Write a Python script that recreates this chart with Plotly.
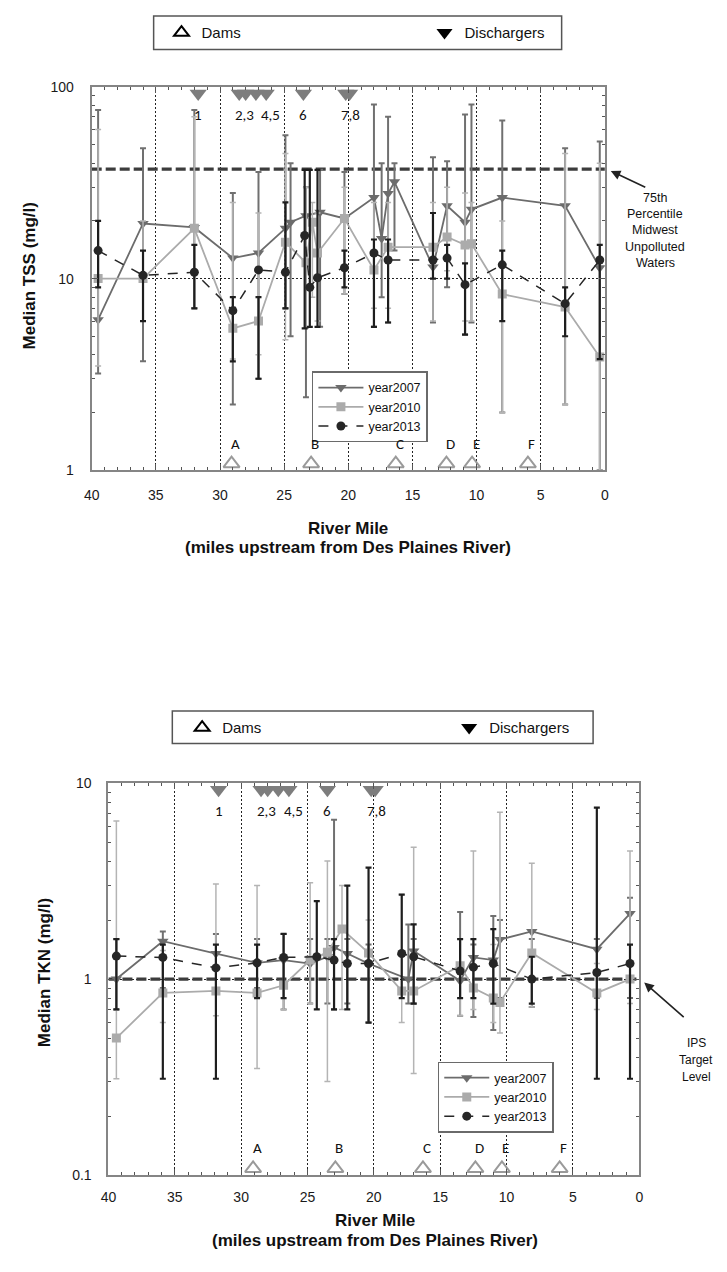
import plotly.graph_objects as go

# The page adds an 8 px body margin; the figure is sized so that the
# page (figure + margins) is exactly the 727 x 1272 window.
PAGE_W, PAGE_H, PAD = 727, 1272, 8
FW, FH = PAGE_W - 2 * PAD, PAGE_H - 2 * PAD

# ---------------- data: TSS (top chart) ----------------
tss_2007_mile = [39.5, 36.0, 32.0, 29.0, 27.0, 24.9, 24.5, 23.3, 22.2, 20.3, 18.0, 17.4, 16.9, 16.4, 13.4, 12.3, 10.9, 10.4, 8.0, 3.1, 0.4]
tss_2007_med = [6.1, 19.4, 18.5, 12.8, 13.6, 18.3, 19.7, 21.3, 22.2, 20.6, 26.5, 16.2, 27.8, 32.0, 11.5, 24.0, 19.7, 23.0, 26.5, 24.0, 11.4]
tss_2007_lo = [3.2, 3.7, 7.0, 2.2, 3.0, 7.0, 5.0, 2.4, 5.6, 8.3, 5.6, 8.0, 5.9, 14.0, 5.9, 9.0, 5.1, 5.9, 2.0, 2.2, 1.0]
tss_2007_hi = [76, 48, 76, 28, 36, 56, 40, 30, 37, 36, 81, 40, 70, 40, 43, 41, 72, 81, 67, 48, 52]

tss_2010_mile = [39.5, 36.0, 32.0, 29.0, 27.0, 24.9, 23.3, 22.8, 22.4, 20.3, 18.0, 16.9, 13.4, 12.3, 10.9, 10.4, 8.0, 3.1, 0.4]
tss_2010_med = [10.0, 10.0, 18.3, 5.5, 6.0, 15.5, 12.1, 19.7, 13.6, 20.6, 11.1, 14.6, 14.6, 16.5, 15.0, 15.2, 8.3, 7.1, 3.9]
tss_2010_lo = [3.5, 6.0, 7.0, 3.8, 4.0, 4.8, 5.5, 8.0, 6.0, 8.3, 7.0, 7.0, 6.0, 11.0, 6.0, 6.0, 2.0, 2.2, 1.0]
tss_2010_hi = [60, 20, 70, 25, 22, 45, 30, 25, 22, 30, 25, 25, 25, 30, 28, 25, 20, 45, 40]

tss_2013_mile = [39.5, 36.0, 32.0, 29.0, 27.0, 24.9, 23.4, 23.0, 22.4, 20.3, 18.0, 16.9, 13.4, 12.3, 10.9, 8.0, 3.1, 0.4]
tss_2013_med = [14.0, 10.4, 10.8, 6.8, 11.1, 10.8, 16.8, 9.0, 10.1, 11.4, 13.6, 12.5, 12.5, 12.8, 9.3, 11.8, 7.4, 12.5]
tss_2013_lo = [9.0, 6.0, 7.0, 3.7, 3.0, 7.0, 5.5, 5.6, 5.6, 9.0, 5.6, 5.9, 10.0, 10.0, 5.1, 6.0, 5.0, 3.8]
tss_2013_hi = [20, 14, 15, 8.0, 8.0, 25, 37, 37, 37, 14, 16, 16, 22, 15, 12, 14, 9.0, 15]

tss_reference = 37.3  # 75th percentile Midwest unpolluted waters

# ---------------- data: TKN (bottom chart) ----------------
tkn_2007_mile = [39.4, 35.9, 31.9, 28.8, 26.8, 24.8, 23.5, 23.0, 22.0, 20.4, 17.4, 17.0, 13.5, 12.5, 11.0, 10.5, 8.1, 3.2, 0.7]
tkn_2007_med = [1.0, 1.56, 1.35, 1.21, 1.25, 1.2, 1.3, 1.45, 1.35, 1.2, 1.0, 1.39, 0.98, 1.29, 1.25, 1.59, 1.75, 1.42, 2.16]
tkn_2007_lo = [0.7, 0.9, 0.9, 0.9, 0.7, 0.75, 0.75, 0.7, 0.75, 0.6, 0.75, 0.75, 0.65, 0.64, 0.55, 0.8, 0.72, 0.8, 0.8]
tkn_2007_hi = [1.6, 1.75, 1.7, 1.6, 1.7, 1.6, 1.6, 6.5, 1.6, 1.5, 1.9, 1.6, 2.2, 1.5, 2.1, 2.0, 1.6, 1.6, 2.6]

tkn_2010_mile = [39.4, 35.9, 31.9, 28.8, 26.8, 24.8, 23.5, 22.4, 20.4, 17.9, 17.0, 13.5, 12.5, 11.0, 10.5, 8.1, 3.2, 0.7]
tkn_2010_med = [0.5, 0.85, 0.87, 0.85, 0.93, 1.25, 1.37, 1.8, 1.36, 0.87, 0.87, 1.17, 0.9, 0.8, 0.76, 1.36, 0.85, 1.0]
tkn_2010_lo = [0.31, 0.6, 0.65, 0.35, 0.7, 0.75, 0.3, 0.7, 0.6, 0.6, 0.33, 0.65, 0.7, 0.6, 0.53, 0.72, 0.7, 0.75]
tkn_2010_hi = [6.4, 1.4, 3.06, 3.0, 1.7, 3.1, 4.0, 3.0, 2.0, 2.7, 4.7, 1.6, 4.5, 1.5, 7.1, 3.9, 1.2, 4.5]

tkn_2013_mile = [39.4, 35.9, 31.9, 28.8, 26.8, 24.3, 23.0, 22.0, 20.4, 17.9, 17.0, 13.5, 12.5, 11.0, 8.1, 3.2, 0.7]
tkn_2013_med = [1.31, 1.29, 1.14, 1.21, 1.29, 1.3, 1.25, 1.2, 1.2, 1.35, 1.3, 1.1, 1.15, 1.2, 1.0, 1.08, 1.2]
tkn_2013_lo = [0.7, 0.31, 0.31, 0.8, 0.8, 0.7, 0.7, 0.7, 0.6, 0.8, 0.75, 0.8, 0.8, 0.75, 0.75, 0.31, 0.31]
tkn_2013_hi = [1.6, 1.5, 1.5, 1.5, 1.7, 2.5, 1.6, 3.0, 3.7, 2.7, 1.9, 1.6, 1.6, 1.8, 1.3, 7.5, 1.5]

tkn_reference = 1.0  # IPS target level

# ---------------- site markers ----------------
dam_miles = [29.1, 22.9, 16.3, 12.35, 10.35, 6.0]
dam_labels = ["A", "B", "C", "D", "E", "F"]
discharger_miles = [31.7, 28.5, 28.0, 27.2, 26.4, 23.5, 20.2, 19.9]
discharger_label_miles = [31.7, 28.1, 26.05, 23.5, 19.8]
discharger_labels = ["1", "2,3", "4,5", "6", "7,8"]

x_ticks = [40, 35, 30, 25, 20, 15, 10, 5, 0]

FONT = "Liberation Sans, Arial, sans-serif"
LABEL_FONT = "Carlito, Noto Sans, DejaVu Sans, sans-serif"

C07, C10, C13 = "#6c6c6c", "#ababab", "#262626"


def fx(px):  # page pixel -> paper x
    return (px - PAD) / FW


def fy(py):  # page pixel -> paper y
    return 1 - (py - PAD) / FH


fig = go.Figure()


def add_series(mile, med, lo, hi, name, xa, ya, legend, color, symbol, msize, dash, lwidth, ecolor, ethick):
    fig.add_trace(go.Scatter(
        x=mile, y=med, name=name, mode="lines+markers", xaxis=xa, yaxis=ya, legend=legend,
        line=dict(color=color, width=lwidth, dash=dash),
        marker=dict(symbol=symbol, size=msize, color=color, line=dict(width=0)),
        error_y=dict(type="data", symmetric=False,
                     array=[h - m for h, m in zip(hi, med)],
                     arrayminus=[m - l for m, l in zip(med, lo)],
                     color=ecolor, thickness=ethick, width=3),
        hoverinfo="skip",
    ))


def add_chart(xa, ya, yo, legend, sites_legend, s07, s10, s13, ref):
    fig.add_trace(go.Scatter(x=[x_ticks[0], x_ticks[-1]], y=[ref, ref], mode="lines", xaxis=xa, yaxis=ya,
                             line=dict(color="#3c3c3c", width=3.2, dash="10px,4px"),
                             showlegend=False, hoverinfo="skip"))
    add_series(*s07, "year2007", xa, ya, legend, C07, "triangle-down", 10, "solid", 1.8, "#707070", 2)
    add_series(*s10, "year2010", xa, ya, legend, C10, "square", 9, "solid", 1.8, "#b4b4b4", 1.5)
    add_series(*s13, "year2013", xa, ya, legend, C13, "circle", 9, "10px,9px", 1.5, "#1e1e1e", 2.2)
    fig.add_trace(go.Scatter(x=dam_miles, y=[0.017] * len(dam_miles), mode="markers", xaxis=xa, yaxis=yo,
                             marker=dict(symbol="triangle-up-open", size=14, color="#9a9a9a", line=dict(width=2)),
                             showlegend=False, cliponaxis=False, hoverinfo="skip"))
    fig.add_trace(go.Scatter(x=discharger_miles, y=[0.983] * len(discharger_miles), mode="markers", xaxis=xa, yaxis=yo,
                             marker=dict(symbol="triangle-down", size=15, color="#7d7d7d"),
                             showlegend=False, cliponaxis=False, hoverinfo="skip"))
    fig.add_trace(go.Scatter(x=[None], y=[None], mode="markers", xaxis=xa, yaxis=ya, name="Dams", legend=sites_legend,
                             marker=dict(symbol="triangle-up-open", size=13, color="black", line=dict(width=2))))
    fig.add_trace(go.Scatter(x=[None], y=[None], mode="markers", xaxis=xa, yaxis=ya, name="Dischargers",
                             legend=sites_legend, marker=dict(symbol="triangle-down", size=14, color="black")))
    for m, t in zip(dam_miles, dam_labels):
        fig.add_annotation(x=m, y=0.068, xref=xa, yref=yo, text=t, showarrow=False, xshift=4,
                           xanchor="center", yanchor="middle",
                           font=dict(family=LABEL_FONT, size=15, color="#111"))
    for m, t in zip(discharger_label_miles, discharger_labels):
        fig.add_annotation(x=m, y=0.928, xref=xa, yref=yo, text=t, showarrow=False,
                           xanchor="center", yanchor="middle",
                           font=dict(family=LABEL_FONT, size=15, color="#111"))


add_chart("x", "y", "y3", "legend", "legend3",
          (tss_2007_mile, tss_2007_med, tss_2007_lo, tss_2007_hi),
          (tss_2010_mile, tss_2010_med, tss_2010_lo, tss_2010_hi),
          (tss_2013_mile, tss_2013_med, tss_2013_lo, tss_2013_hi), tss_reference)
add_chart("x2", "y2", "y4", "legend2", "legend4",
          (tkn_2007_mile, tkn_2007_med, tkn_2007_lo, tkn_2007_hi),
          (tkn_2010_mile, tkn_2010_med, tkn_2010_lo, tkn_2010_hi),
          (tkn_2013_mile, tkn_2013_med, tkn_2013_lo, tkn_2013_hi), tkn_reference)


def xaxis(domain, anchor, standoff):
    return dict(domain=domain, anchor=anchor, range=[x_ticks[0], x_ticks[-1]], tickvals=x_ticks,
                ticks="inside", ticklen=6, tickcolor="#555", showline=True, linecolor="#858585", linewidth=2,
                mirror="ticks", showgrid=True, gridcolor="#222", griddash="2px,2px", gridwidth=1,
                zeroline=False, tickfont=dict(family=FONT, size=14, color="#1a1a1a"),
                ticklabelstandoff=standoff,
                minor=dict(dtick=1, ticks="inside", ticklen=3, tickcolor="#555", showgrid=False))


def yaxis(domain, anchor, rng, standoff):
    return dict(domain=domain, anchor=anchor, type="log", range=rng, dtick=1,
                ticks="inside", ticklen=6, tickcolor="#555", showline=True, linecolor="#858585", linewidth=2,
                mirror="ticks", showgrid=True, gridcolor="#222", griddash="2px,2px", gridwidth=1,
                zeroline=False, tickfont=dict(family=FONT, size=14, color="#1a1a1a"),
                ticklabelstandoff=standoff,
                minor=dict(ticks="inside", ticklen=3, tickcolor="#555", showgrid=False))


fig.update_layout(
    width=FW, height=FH, autosize=False,
    margin=dict(l=0, r=0, t=0, b=0),
    paper_bgcolor="white", plot_bgcolor="white",
    xaxis=xaxis([fx(85), fx(607)], "y", 11),
    yaxis=yaxis([fy(468), fy(80)], "x", [0, 2], 13),
    xaxis2=xaxis([fx(102), fx(642)], "y2", 8),
    yaxis2=yaxis([fy(1182), fy(785)], "x2", [-1, 1], 12),
    yaxis3=dict(overlaying="y", anchor="x", range=[0, 1], visible=False),
    yaxis4=dict(overlaying="y2", anchor="x2", range=[0, 1], visible=False),
    legend=dict(x=fx(309), y=fy(368), xanchor="left", yanchor="top", bgcolor="white",
                bordercolor="#6a6a6a", borderwidth=1.5, tracegroupgap=0, itemwidth=45,
                font=dict(family=FONT, size=12.5, color="#111")),
    legend2=dict(x=fx(437), y=fy(1067), xanchor="left", yanchor="top", bgcolor="white",
                 bordercolor="#6a6a6a", borderwidth=1.5, tracegroupgap=0, itemwidth=45,
                 font=dict(family=FONT, size=12.5, color="#111")),
    legend3=dict(x=fx(156), y=fy(25), xanchor="left", yanchor="middle", orientation="h",
                 bgcolor="rgba(0,0,0,0)", borderwidth=0, entrywidth=218, entrywidthmode="pixels",
                 font=dict(family=FONT, size=15, color="#111")),
    legend4=dict(x=fx(177), y=fy(729), xanchor="left", yanchor="middle", orientation="h",
                 bgcolor="rgba(0,0,0,0)", borderwidth=0, entrywidth=222, entrywidthmode="pixels",
                 font=dict(family=FONT, size=15, color="#111")),
    showlegend=True,
)

for (x0, y0, x1, y1) in [(148, 8, 563, 42), (167, 712, 595, 745)]:
    fig.add_shape(type="rect", xref="paper", yref="paper", x0=fx(x0), x1=fx(x1), y0=fy(y1), y1=fy(y0),
                  line=dict(color="#555", width=1.5), fillcolor="rgba(0,0,0,0)", layer="above")


def ann(x, y, text, size, angle=0, bold=False):
    fig.add_annotation(x=fx(x), y=fy(y), xref="paper", yref="paper", xanchor="center", yanchor="middle",
                       text=f"<b>{text}</b>" if bold else text, textangle=angle, showarrow=False,
                       font=dict(family=FONT, size=size, color="#111"))


ann(22, 271, "Median TSS (mg/l)", 17, -90, True)
ann(37, 977, "Median TKN (mg/l)", 17, -90, True)
for cx, y1, y2 in [(346, 527, 546), (373, 1228, 1248)]:
    ann(cx, y1, "River Mile", 17, 0, True)
    ann(cx, y2, "(miles upstream from Des Plaines River)", 17, 0, True)

fig.add_annotation(x=fx(613), y=fy(165), xref="paper", yref="paper", text="", showarrow=True,
                   ax=36, ay=17, arrowhead=2, arrowsize=1.2, arrowwidth=1.6, arrowcolor="#222")
for i, t in enumerate(["75th", "Percentile", "Midwest", "Unpolluted", "Waters"]):
    ann(658, 192 + 16.6 * i, t, 12.5)
fig.add_annotation(x=fx(647), y=fy(987), xref="paper", yref="paper", text="", showarrow=True,
                   ax=41, ay=36, arrowhead=2, arrowsize=1.2, arrowwidth=1.6, arrowcolor="#222")
for i, t in enumerate(["IPS", "Target", "Level"]):
    ann(700, 1048 + 17.5 * i, t, 12)

fig.write_html("out.html")
